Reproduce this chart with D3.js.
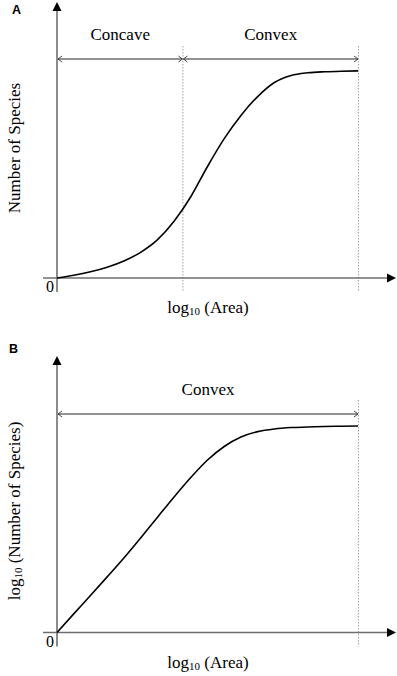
<!DOCTYPE html>
<html><head><meta charset="utf-8">
<script src="https://cdn.jsdelivr.net/npm/d3@7"></script>
<style>body{margin:0;background:#fff}svg{display:block}</style>
</head><body>
<svg id="c" width="397" height="676"></svg>
<script>
// ---- data ----
const logArea = [0,1,2,3,4,5,6,7,8,9,10,11,12,13,14,15,16,17,18];
const speciesA = [0,1.0,2.3,4.0,6.3,9.5,14.1,21.0,30.1,41.3,51.6,60.2,67.2,72.4,75.0,76.0,76.4,76.6,76.7];
const logSpeciesB = [0,6.9,13.7,20.6,27.6,35.0,42.6,50.2,57.4,63.9,68.9,72.4,74.4,75.4,75.9,76.1,76.3,76.4,76.5];
const boundariesA = [0,7.5,18];
const regionLabelsA = ["Concave","Convex"];
const boundariesB = [0,18];
const regionLabelsB = ["Convex"];
const panelLetters = ["A","B"];
const yLabels = ["Number of Species", null];

const svg = d3.select("#c");
const axisCol = "#6e6e6e";
const serif = "'Liberation Serif','Times New Roman',serif";

const x = d3.scaleLinear().domain([0,18]).range([57,358]);

function panel(cfg){
  const y = d3.scaleLinear().domain([0,100]).range([cfg.y0, cfg.y0-270]);
  const g = svg.append("g");
  g.append("text").attr("x",cfg.letterX).attr("y",cfg.letterY).text(cfg.letter)
    .attr("font-family","'Liberation Sans',Arial,sans-serif").attr("font-weight","bold").attr("font-size",12.5);
  cfg.bounds.slice(1).forEach(b=>{
    g.append("line").attr("x1",x(b)+0.5).attr("x2",x(b)+0.5)
      .attr("y1",cfg.dashTop).attr("y2",cfg.y0+14)
      .attr("stroke","#8a8a8a").attr("stroke-width",0.8).attr("stroke-dasharray","1.5,1.5");
  });
  g.append("line").attr("x1",x(0)).attr("x2",x(0)).attr("y1",cfg.y0+14).attr("y2",cfg.tipY+7)
    .attr("stroke",axisCol).attr("stroke-width",1.6);
  g.append("line").attr("x1",43).attr("x2",389).attr("y1",cfg.y0).attr("y2",cfg.y0)
    .attr("stroke",axisCol).attr("stroke-width",1.6);
  const xa = x(0);
  g.append("path").attr("d",`M${xa},${cfg.tipY} L${xa-4.5},${cfg.tipY+9} L${xa+4.5},${cfg.tipY+9}Z`).attr("fill","#000");
  g.append("path").attr("d",`M396,${cfg.y0} L387,${cfg.y0-4.5} L387,${cfg.y0+4.5}Z`).attr("fill","#000");
  for(let i=0;i<cfg.bounds.length-1;i++){
    const a=x(cfg.bounds[i])+1, b=x(cfg.bounds[i+1]);
    const ya=cfg.rangeY;
    g.append("line").attr("x1",a).attr("x2",b).attr("y1",ya).attr("y2",ya).attr("stroke",axisCol).attr("stroke-width",1.4);
    g.append("path").attr("d",`M${a+4},${ya-3} L${a},${ya} L${a+4},${ya+3}`).attr("fill","none").attr("stroke","#333").attr("stroke-width",0.9);
    g.append("path").attr("d",`M${b-4},${ya-3} L${b},${ya} L${b-4},${ya+3}`).attr("fill","none").attr("stroke","#333").attr("stroke-width",0.9);
    g.append("text").attr("x",(a+b)/2).attr("y",cfg.labelY).attr("text-anchor","middle")
      .attr("font-family",serif).attr("font-size",17).text(cfg.labels[i]);
  }
  const line = d3.line().x(d=>x(d[0])).y(d=>y(d[1])).curve(d3.curveMonotoneX);
  g.append("path").datum(logArea.map((v,i)=>[v,cfg.vals[i]])).attr("d",line)
    .attr("fill","none").attr("stroke","#000").attr("stroke-width",1.6);
  g.append("text").attr("x",50).attr("y",cfg.y0+14).attr("text-anchor","middle")
    .attr("font-family",serif).attr("font-size",16).text("0");
  const xl = g.append("text").attr("x",208).attr("y",cfg.y0+35).attr("text-anchor","middle")
    .attr("font-family",serif).attr("font-size",17);
  xl.append("tspan").text("log");
  xl.append("tspan").attr("font-size",11).attr("dy",2).text("10");
  xl.append("tspan").attr("dy",-2).text(" (Area)");
  const yl = g.append("text").attr("transform",`translate(20,${cfg.yLabelC}) rotate(-90)`)
    .attr("text-anchor","middle").attr("font-family",serif).attr("font-size",17);
  if(cfg.ylabel){ yl.text(cfg.ylabel); }
  else {
    yl.append("tspan").text("log");
    yl.append("tspan").attr("font-size",11).attr("dy",2).text("10");
    yl.append("tspan").attr("dy",-2).text(" (Number of Species)");
  }
}

panel({letter:panelLetters[0], letterX:12, letterY:13.5, y0:278, tipY:2, dashTop:46, rangeY:59, labelY:40,
  bounds:boundariesA, labels:regionLabelsA, vals:speciesA, yLabelC:148, ylabel:yLabels[0]});
panel({letter:panelLetters[1], letterX:9, letterY:353, y0:632.5, tipY:356, dashTop:400, rangeY:414, labelY:395,
  bounds:boundariesB, labels:regionLabelsB, vals:logSpeciesB, yLabelC:511, ylabel:yLabels[1]});
</script>
</body></html>
